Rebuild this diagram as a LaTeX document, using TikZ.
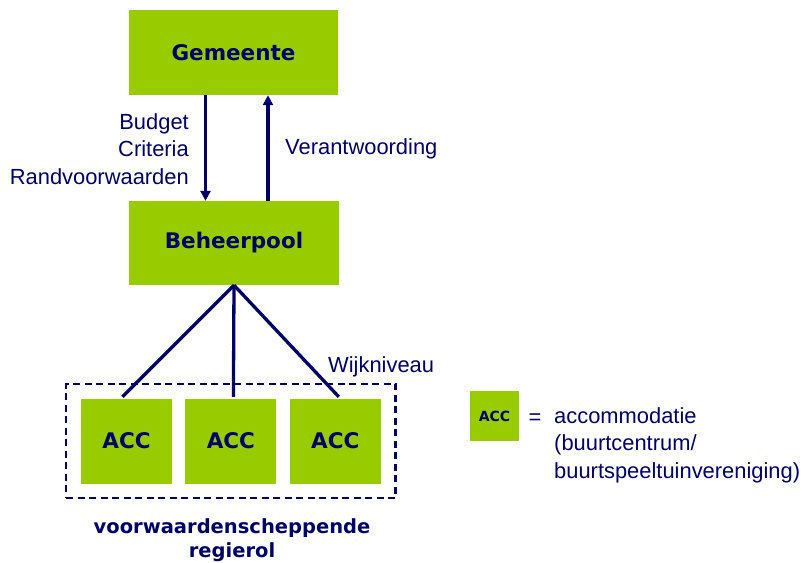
\documentclass[tikz,border=0pt]{standalone}
\usepackage{fontspec}
\setmainfont{Liberation Sans}
\newfontfamily\boxfont{DejaVu Sans}
\usepackage{tikz}
\usetikzlibrary{positioning,fit,arrows.meta}
\usepackage{xcolor}
\definecolor{accgreen}{HTML}{99CC00}
\definecolor{navy}{HTML}{000066}

\begin{document}
\begin{tikzpicture}[
  x=1pt,y=-1pt,
  greenbox/.style={
    fill=accgreen,
    inner sep=0pt,
    minimum width=#1,
    text=navy,
    font=\boxfont\bfseries\fontsize{21.5}{26}\selectfont,
    },
  link/.style={draw=navy,line width=3.3pt},
  flow/.style={link,line width=3.6pt,-{Triangle[width=10pt,length=10pt]}},
  lbl/.style={text=navy,inner sep=0pt,font=\fontsize{21.9}{27.5}\selectfont},
  ]
  \useasboundingbox (0,0) rectangle (802,562);

  \node[greenbox=209pt,minimum height=85pt] (gem)
    at (233.5,52.5) {Gemeente};
  \node[greenbox=210pt,minimum height=84pt] (bpool)
    at (234,243) {Beheerpool};

  \node[greenbox=91pt,minimum height=85pt] (acc1)
    at (126.5,441) {ACC};
  \node[greenbox=91pt,minimum height=85pt,right=13pt of acc1] (acc2) {ACC};
  \node[greenbox=91pt,minimum height=85pt,right=13pt of acc2] (acc3) {ACC};

  % wijk
  \node[draw=navy,line width=2.2pt,dash pattern=on 7pt off 4.5pt,
    inner sep=14.5pt,fit=(acc1)(acc3)] (wijk) {};

  \draw[flow]
    ([xshift=-28pt]gem.south) -- ([xshift=-28pt]gem.south |- bpool.north);
  \draw[flow]
    ([xshift=34pt]bpool.north) -- ([xshift=34pt]bpool.north |- gem.south);

  \draw[link] (bpool.south) -- ([xshift=-4pt,yshift=1.5pt]acc1.north);
  \draw[link] (bpool.south) -- ([xshift=2.5pt,yshift=1.5pt]acc2.north);
  \draw[link] (bpool.south) -- ([xshift=3.5pt,yshift=1.5pt]acc3.north);

  \node[lbl,align=right,anchor=east] (input)
    at (189,149) {Budget\\Criteria\\Randvoorwaarden};
  \node[lbl,anchor=west] (verant)
    at (285,149) {Verantwoording};
  \node[lbl,anchor=west] (wijklbl)
    at (328,367) {Wijkniveau};

  \node[text=navy,align=center,inner sep=0pt,
    font=\boxfont\bfseries\fontsize{19.5}{24}\selectfont] (regie)
    at (232,540) {voorwaardenscheppende\\regierol};

  % legenda
  \node[greenbox=49pt,minimum height=50pt,
    font=\boxfont\bfseries\fontsize{14}{17}\selectfont] (accleg)
    at (494.5,416) {ACC};
  \node[lbl] (eq) at (535,419) {=};
  \node[lbl,align=left,anchor=west] (accuitleg)
    at (554,445) {accommodatie\\(buurtcentrum/\\buurtspeeltuinvereniging)};
\end{tikzpicture}
\end{document}
